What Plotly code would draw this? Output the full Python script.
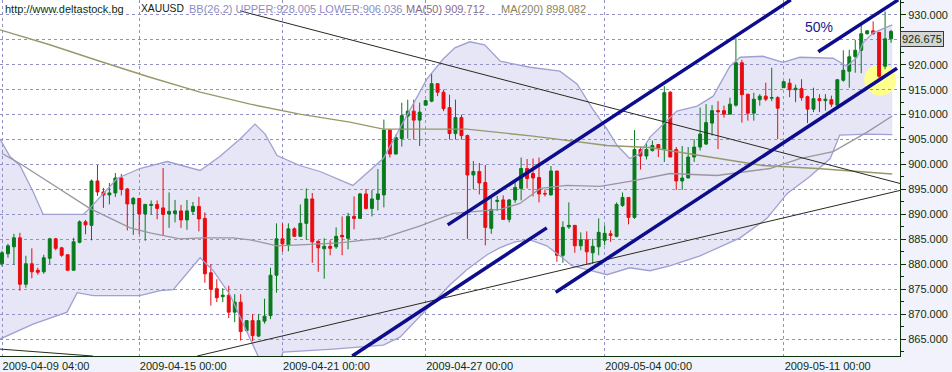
import plotly.graph_objects as go

# ---------------- data ----------------
tick_idx = [0, 23, 47, 71, 101, 131]
tick_labels = ["2009-04-09 04:00", "2009-04-15 00:00", "2009-04-21 00:00",
               "2009-04-27 00:00", "2009-05-04 00:00", "2009-05-11 00:00"]
price_ticks = [865, 870, 875, 880, 885, 890, 895, 900, 905, 910, 915, 920, 925, 930]
price_tick_text = ["865.000", "870.000", "875.000", "880.000", "885.000", "890.000",
                   "895.000", "900.000", "905.000", "910.000", "915.000", "920.000",
                   "", "930.000"]

opens = [880.1, 882.1, 883.5, 885.3, 876.0, 880.1, 878.8, 878.5, 881.2, 885.1,
         883.3, 881.9, 878.8, 884.4, 888.5, 887.8, 896.7, 894.5, 893.9, 894.3,
         897.3, 895.1, 892.1, 893.2, 890.1, 891.8, 892.0, 891.3, 890.1, 890.2,
         890.7, 888.9, 890.6, 891.6, 889.2, 878.3, 875.1, 873.5, 873.8, 870.4,
         872.4, 866.7, 868.7, 865.6, 868.6, 869.7, 877.8, 885.1, 883.9, 887.1,
         885.6, 888.2, 893.1, 884.6, 883.1, 883.6, 883.5, 885.8, 885.2, 889.6,
         889.2, 894.1, 891.2, 893.0, 893.9, 906.9, 902.1, 905.2, 909.7, 910.7,
         908.9, 911.9, 912.7, 916.2, 914.5, 911.4, 906.2, 909.4, 905.8, 897.9,
         898.6, 896.4, 887.2, 892.6, 892.9, 889.0, 892.9, 895.2, 899.2, 898.2,
         897.4, 894.2, 893.9, 898.7, 881.8, 887.5, 887.8, 883.7, 884.9, 882.3,
         883.5, 884.8, 886.1, 885.6, 891.8, 893.4, 889.4, 903.0, 901.7, 902.8,
         904.0, 903.1, 914.5, 903.0, 896.7, 897.3, 901.5, 903.5, 904.1, 908.3,
         910.8, 910.8, 910.1, 911.9, 920.4, 914.1, 910.3, 913.0, 913.7, 913.3,
         913.4, 915.4, 916.3, 915.0, 915.2, 913.6, 911.1, 913.2, 912.8, 913.0,
         911.9, 916.9, 918.7, 921.6, 922.9, 926.2, 926.8, 926.5, 919.7, 925.2]
highs = [882.7, 884.1, 886.1, 886.3, 881.7, 883.2, 879.3, 881.9, 885.3, 885.3,
         883.5, 882.0, 885.3, 888.8, 888.9, 897.0, 899.9, 895.3, 896.3, 898.3,
         898.1, 895.3, 893.5, 893.3, 892.1, 892.8, 892.8, 899.3, 894.4, 892.9,
         891.9, 892.9, 892.5, 893.5, 890.4, 880.0, 877.0, 875.2, 875.7, 874.0,
         874.0, 868.8, 870.0, 870.0, 873.1, 879.3, 888.2, 888.2, 888.2, 887.4,
         892.0, 895.2, 894.3, 884.8, 885.2, 884.8, 887.4, 889.6, 890.3, 893.6,
         894.3, 895.1, 894.9, 899.1, 909.0, 907.0, 906.0, 912.4, 913.0, 913.0,
         912.4, 913.0, 918.2, 916.2, 915.0, 914.0, 913.0, 910.0, 906.0, 900.7,
         900.3, 899.9, 893.8, 893.7, 893.8, 893.1, 896.4, 901.4, 901.1, 901.2,
         901.4, 895.0, 899.7, 898.7, 888.6, 892.4, 887.8, 886.4, 886.6, 885.1,
         889.2, 887.8, 886.8, 892.4, 894.4, 893.4, 906.9, 903.5, 904.3, 904.8,
         904.1, 915.7, 914.7, 903.5, 903.7, 903.5, 905.1, 911.4, 912.1, 911.9,
         912.7, 911.8, 913.4, 925.3, 921.0, 914.1, 914.4, 914.1, 916.4, 919.4,
         913.7, 916.8, 917.2, 916.0, 917.1, 913.8, 915.4, 914.1, 914.1, 913.8,
         917.1, 922.9, 923.0, 925.0, 928.3, 926.9, 928.7, 926.5, 930.7, 927.0]
lows = [879.6, 881.3, 879.9, 874.7, 875.3, 877.2, 877.9, 878.1, 880.0, 882.8,
        881.5, 878.8, 878.8, 884.2, 886.0, 884.8, 893.7, 891.3, 892.0, 893.5,
        893.8, 886.8, 885.9, 886.0, 884.7, 889.9, 889.0, 885.7, 887.3, 888.4,
        887.3, 886.9, 889.9, 886.6, 876.3, 871.7, 872.4, 872.4, 869.2, 868.4,
        864.7, 866.4, 864.6, 865.4, 868.1, 869.0, 874.3, 882.5, 882.6, 885.6,
        885.6, 884.9, 880.3, 878.5, 877.1, 881.8, 883.1, 881.8, 883.0, 887.0,
        889.2, 891.0, 889.6, 890.8, 891.4, 901.4, 902.0, 903.6, 905.2, 905.0,
        903.7, 911.8, 912.5, 913.7, 910.7, 905.0, 905.0, 905.0, 885.1, 895.0,
        894.0, 883.8, 886.1, 890.7, 889.0, 888.4, 892.3, 892.8, 895.2, 893.6,
        892.4, 893.6, 893.8, 880.5, 880.3, 887.1, 882.3, 882.8, 879.9, 880.1,
        881.8, 883.8, 884.5, 885.4, 891.5, 888.0, 889.1, 899.0, 901.0, 902.6,
        901.5, 900.5, 901.5, 894.9, 894.9, 897.2, 900.5, 902.8, 903.9, 905.8,
        903.1, 909.4, 910.1, 911.6, 908.4, 908.8, 908.8, 911.8, 912.7, 912.7,
        905.1, 915.4, 913.5, 912.5, 912.8, 908.3, 910.5, 910.5, 910.8, 911.5,
        911.8, 916.6, 915.4, 918.4, 918.3, 926.1, 926.0, 917.1, 919.1, 924.4]
closes = [882.3, 883.7, 885.3, 876.0, 880.1, 878.5, 878.4, 881.3, 885.1, 883.2,
          881.8, 878.8, 884.5, 888.5, 887.9, 896.7, 894.5, 893.9, 894.3, 897.3,
          895.0, 892.1, 893.2, 890.1, 892.0, 892.0, 891.2, 890.0, 890.6, 890.7,
          888.9, 890.7, 891.6, 889.1, 878.1, 875.0, 873.3, 873.8, 870.4, 872.4,
          866.5, 868.7, 865.7, 868.7, 869.6, 877.8, 885.1, 884.1, 887.1, 885.6,
          888.2, 893.1, 884.5, 883.3, 883.6, 883.2, 885.6, 885.5, 889.6, 889.2,
          894.1, 891.2, 893.1, 894.1, 906.9, 902.1, 905.4, 909.8, 910.7, 908.9,
          910.5, 912.8, 916.2, 914.5, 911.2, 906.2, 909.4, 905.8, 897.9, 898.6,
          896.3, 887.4, 891.0, 892.8, 889.0, 892.9, 895.4, 899.2, 897.2, 897.3,
          894.1, 894.1, 898.7, 881.8, 887.4, 887.8, 883.7, 884.9, 882.5, 883.6,
          886.4, 886.2, 885.8, 892.0, 893.4, 889.4, 903.0, 901.7, 903.0, 903.8,
          903.3, 914.4, 901.5, 896.7, 897.3, 901.5, 903.5, 906.1, 908.4, 910.8,
          910.6, 910.1, 912.1, 920.4, 914.0, 910.3, 913.1, 913.7, 913.1, 913.4,
          911.3, 916.6, 915.0, 915.3, 913.4, 911.1, 913.2, 912.8, 913.1, 912.1,
          917.0, 918.9, 921.6, 922.9, 926.2, 926.8, 926.2, 917.7, 925.2, 926.675]
candle_idx = list(range(len(opens)))

# Bollinger bands (26,2) at candle positions
bb_up_x = [-0.34, 1.34, 3.0, 5.2, 6.9, 13.6, 14.7, 19.3, 23.1, 26.5, 27.7, 33.2, 36.5,
           39.9, 42.4, 44.1, 46.1, 49.9, 53.3, 58.8, 63.9, 71.2, 73.9, 75.9, 78.4,
           80.9, 83.5, 88.5, 93.5, 96.4, 99.0, 101.4, 103.1, 105.2, 106.9, 108.6,
           113.1, 116.5, 119.2, 122.0, 123.7, 127.5, 130.9, 133.7, 139.3, 141.6,
           143.3, 144.3, 146.0, 149.2]
bb_up_y = [905.1, 901.6, 899.8, 894.6, 890.0, 890.0, 891.2, 897.2, 899.2, 900.2, 900.6,
           898.8, 901.6, 905.1, 908.1, 906.1, 901.8, 899.8, 898.6, 895.8, 901.2, 917.1,
           921.1, 923.4, 924.6, 924.0, 920.7, 919.5, 918.7, 916.1, 911.1, 907.1, 903.8,
           901.2, 902.2, 905.5, 910.7, 911.7, 913.7, 919.7, 921.5, 921.7, 920.5, 921.5,
           921.3, 919.7, 921.5, 924.4, 926.4, 928.0]
bb_lo_x = [-0.34, 5.2, 10.9, 12.6, 15.3, 23.1, 26.5, 28.7, 33.2, 35.4, 38.2, 42.1,
           43.6, 46.3, 47.1, 55.5, 63.9, 66.7, 75.1, 77.9, 81.3, 83.4, 86.0, 88.5,
           91.3, 93.5, 95.5, 101.4, 105.2, 108.6, 111.9, 117.0, 123.7, 128.2, 131.6,
           135.4, 138.8, 140.4, 145.0, 149.2]
bb_lo_y = [865.0, 868.0, 870.4, 874.3, 873.7, 873.7, 874.7, 874.9, 881.3, 878.7, 873.9,
           863.4, 859.8, 859.8, 862.4, 863.0, 863.8, 865.4, 875.9, 878.9, 881.9, 883.3,
           884.5, 884.9, 883.7, 881.7, 879.7, 877.9, 879.3, 878.7, 879.7, 881.7, 885.3,
           889.2, 894.2, 897.6, 901.2, 905.9, 906.1, 906.0]

# Moving averages
ma50_x = [0, 3.0, 14.7, 21.5, 24.8, 29.8, 33.7, 38.7, 41.6, 46.1, 49.9, 56.6, 63.9,
          70.1, 75.6, 83.5, 86.8, 90.2, 94.7, 100.2, 105.2, 112.0, 119.8, 128.7,
          133.7, 139.3, 145.0, 149.2]
ma50_y = [902.2, 900.2, 891.2, 887.3, 886.3, 885.1, 885.3, 885.3, 884.9, 883.7, 883.9,
          884.3, 885.3, 887.7, 890.2, 891.0, 892.2, 895.2, 895.8, 895.6, 896.6, 898.2,
          897.8, 899.2, 901.2, 902.6, 906.5, 909.712]
ma200_x = [-0.34, 8.0, 16.4, 24.8, 33.2, 41.6, 49.9, 58.3, 63.9, 77.9, 89.0, 101.4,
           108.6, 117.0, 127.5, 136.6, 149.2]
ma200_y = [927.0, 924.0, 920.7, 917.5, 914.5, 912.1, 910.1, 908.5, 907.1, 907.1, 905.7,
           903.8, 903.4, 901.8, 899.8, 899.2, 898.082]

# Thin black trend lines: [x0, x1], [y0, y1]
thin_lines = [
    ([39.9, 150.5], [930.8, 896.2]),
    ([32.7, 150.5], [861.6, 894.8]),
    ([-0.34, 15.25], [863.0, 861.6]),
]
# Thick blue channel lines
channel_lines = [
    ([74.7, 132.2], [887.9, 933.0]),
    ([58.7, 91.3], [861.6, 887.3]),
    ([92.8, 150.0], [874.4, 919.3]),
    ([136.8, 150.2], [922.6, 933.0]),
]
# Highlight circle (x range, y range)
circle_x = [144.5, 149.9]
circle_y = [913.8, 920.1]

last_price = 926.675
x_range = [-0.335, 150.5]
y_range = [861.61, 932.98]

# ---------------- styles ----------------
DARK = "#0b300b"
GRID = "#9191c6"
BAND_FILL = "#e6e6f6"
BAND_LINE = "#a0a0d2"
FONT = "Liberation Sans, Arial, sans-serif"

fig = go.Figure()

fig.add_trace(go.Scatter(x=bb_up_x, y=bb_up_y, mode="lines",
                         line=dict(color=BAND_LINE, width=1.3), hoverinfo="skip"))
fig.add_trace(go.Scatter(x=bb_lo_x, y=bb_lo_y, mode="lines",
                         line=dict(color=BAND_LINE, width=1.3), hoverinfo="skip"))
fig.add_trace(go.Scatter(x=ma200_x, y=ma200_y, mode="lines",
                         line=dict(color="#98986a", width=1.4), hoverinfo="skip"))
fig.add_trace(go.Scatter(x=ma50_x, y=ma50_y, mode="lines",
                         line=dict(color="#9a96a0", width=1.3), hoverinfo="skip"))
for xs, ys in thin_lines:
    fig.add_trace(go.Scatter(x=xs, y=ys, mode="lines",
                             line=dict(color="#2a2a1c", width=1), hoverinfo="skip"))

fig.add_trace(go.Candlestick(
    x=candle_idx, open=opens, high=highs, low=lows, close=closes,
    increasing=dict(line=dict(color="#087a1c", width=1), fillcolor="#087a1c"),
    decreasing=dict(line=dict(color="#e80c10", width=1), fillcolor="#e80c10"),
    whiskerwidth=0, hoverinfo="skip"))

for xs, ys in channel_lines:
    fig.add_trace(go.Scatter(x=xs, y=ys, mode="lines",
                             line=dict(color="#0c0c8c", width=3.5), hoverinfo="skip"))

pts = list(zip(bb_up_x, bb_up_y)) + list(zip(bb_lo_x, bb_lo_y))[::-1]
path = "M " + " L ".join(f"{px},{py}" for px, py in pts) + " Z"

shapes = [
    dict(type="path", path=path, xref="x", yref="y", layer="below",
         fillcolor=BAND_FILL, line=dict(width=0)),
    dict(type="circle", xref="x", yref="y", layer="below",
         x0=circle_x[0], x1=circle_x[1], y0=circle_y[0], y1=circle_y[1],
         fillcolor="#ffff8e", line=dict(width=0)),
]

PW = 900.0
annotations = [
    dict(text="http://www.deltastock.bg", x=3 / PW, font=dict(color=DARK, size=11)),
    dict(text="XAUUSD", x=139 / PW, font=dict(color="#102010", size=10.3)),
    dict(text="BB(26,2) UPPER:928.005 LOWER:906.036", x=187 / PW, font=dict(color="#8c8cc4", size=11)),
    dict(text="MA(50) 909.712", x=404 / PW, font=dict(color="#8a6a86", size=11)),
    dict(text="MA(200) 898.082", x=499 / PW, font=dict(color="#86865c", size=11)),
]
for a in annotations:
    a.update(xref="paper", yref="paper", y=1, xanchor="left", yanchor="top",
             yshift=-1, showarrow=False)
    a["font"].update(family=FONT)

annotations.append(dict(text="50%", xref="x", yref="y", x=136.9, y=927.5,
                        showarrow=False, font=dict(family=FONT, size=14, color="#1a1a90")))
annotations.append(dict(text=f"{last_price:.3f}", xref="paper", yref="y", x=1.0,
                        y=last_price, xanchor="left", yanchor="top", showarrow=False,
                        bgcolor="#d4d4d4", bordercolor="#3a3a3a", borderwidth=1,
                        borderpad=1, font=dict(family=FONT, size=11, color=DARK)))

fig.update_layout(
    width=952, height=372, autosize=False,
    margin=dict(l=0, r=52, t=0, b=13, pad=0),
    paper_bgcolor="#f2f2fd", plot_bgcolor="#ffffff",
    showlegend=False, shapes=shapes, annotations=annotations,
    font=dict(family=FONT, size=11, color=DARK),
    xaxis=dict(range=x_range, tickmode="array", tickvals=tick_idx, ticktext=tick_labels,
               showgrid=True, gridcolor=GRID, griddash="dot", gridwidth=1,
               showline=True, linecolor=DARK, linewidth=1, ticks="",
               ticklabelshift=44, ticklabelstandoff=0,
               tickfont=dict(family=FONT, size=11, color=DARK),
               zeroline=False, rangeslider=dict(visible=False), fixedrange=True),
    yaxis=dict(range=y_range, side="right", tickmode="array", tickvals=price_ticks,
               ticktext=price_tick_text,
               showgrid=True, gridcolor=GRID, griddash="dot", gridwidth=1,
               showline=True, linecolor=DARK, linewidth=1,
               ticks="outside", ticklen=5, tickcolor=DARK,
               minor=dict(dtick=2.5, tick0=862.5, ticks="outside", ticklen=3,
                          tickcolor=DARK, showgrid=False),
               tickfont=dict(family=FONT, size=11, color=DARK),
               zeroline=False, fixedrange=True),
)

fig.write_html("out.html", config=dict(displayModeBar=False))
